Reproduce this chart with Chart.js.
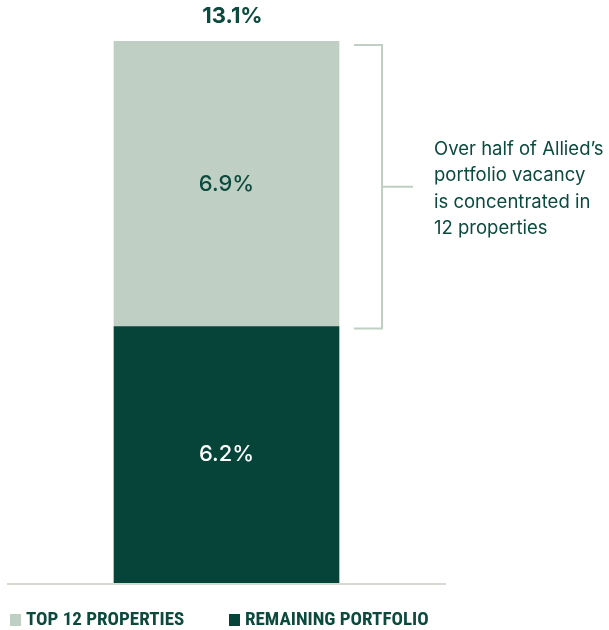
<!DOCTYPE html>
<html>
<head>
<meta charset="utf-8" />
<title>Portfolio vacancy</title>
<script src="https://cdn.jsdelivr.net/npm/chart.js"></script>
<style>
  html, body { margin: 0; padding: 0; background: #fff; }
  #wrap { width: 609px; height: 630px; position: relative; }
</style>
</head>
<body>
<div id="wrap"><canvas id="vacancy"></canvas></div>
<script>
const categories = ['Vacancy'];
const seriesNames = ['REMAINING PORTFOLIO', 'TOP 12 PROPERTIES'];
const remaining = [6.2];
const top12 = [6.9];
const totalLabel = ['13.1%'];
const noteLines = ["Over half of Allied\u2019s", 'portfolio vacancy', 'is concentrated in', '12 properties'];

const DARK = '#06443a';
const LIGHT = '#bfcfc3';
const TEXT = '#0b4a3d';

const overlay = {
  id: 'overlay',
  afterDatasetsDraw(chart) {
    const ctx = chart.ctx;
    const area = chart.chartArea;
    const bottomBar = chart.getDatasetMeta(0).data[0];
    const topBar = chart.getDatasetMeta(1).data[0];
    ctx.save();

    // baseline
    ctx.strokeStyle = '#d9d9d4';
    ctx.lineWidth = 2;
    ctx.beginPath();
    ctx.moveTo(area.left, area.bottom + 1);
    ctx.lineTo(area.right, area.bottom + 1);
    ctx.stroke();

    // segment labels
    ctx.textAlign = 'center';
    ctx.textBaseline = 'middle';
    ctx.font = '500 22px Inter, "Open Sans", sans-serif';
    ctx.fillStyle = '#fff';
    ctx.fillText(remaining[0].toFixed(1) + '%', bottomBar.x, (bottomBar.y + bottomBar.base) / 2);
    ctx.fillStyle = TEXT;
    ctx.fillText(top12[0].toFixed(1) + '%', topBar.x, (topBar.y + topBar.base) / 2 + 1);

    // total above the stack
    ctx.font = '700 22px Inter, "Open Sans", sans-serif';
    ctx.fillText(totalLabel[0], topBar.x + 6, topBar.y - 25);

    // bracket around the top segment
    const bx = 382;
    const y0 = topBar.y + 4;
    const y1 = topBar.base + 2;
    const ym = (y0 + y1) / 2;
    ctx.strokeStyle = LIGHT;
    ctx.lineWidth = 2;
    ctx.beginPath();
    ctx.moveTo(354, y0); ctx.lineTo(bx, y0); ctx.lineTo(bx, y1); ctx.lineTo(354, y1);
    ctx.moveTo(bx, ym); ctx.lineTo(413, ym);
    ctx.stroke();

    // note text
    ctx.textAlign = 'left';
    ctx.font = '400 18.5px Inter, "Open Sans", sans-serif';
    ctx.fillStyle = TEXT;
    noteLines.forEach((t, i) => ctx.fillText(t, 434, 149 + i * 26.5));

    // legend
    ctx.font = '700 19px "Liberation Sans Narrow", "Roboto Condensed", Roboto, sans-serif';
    const items = [[seriesNames[1], LIGHT, 10], [seriesNames[0], DARK, 229]];
    items.forEach(([name, col, x]) => {
      ctx.fillStyle = col;
      ctx.fillRect(x, 614, 11, 12);
      ctx.fillStyle = TEXT;
      ctx.fillText(name, x + 16, 620);
    });
    ctx.restore();
  }
};

new Chart(document.getElementById('vacancy'), {
  type: 'bar',
  data: {
    labels: categories,
    datasets: [
      { label: seriesNames[0], data: remaining, backgroundColor: DARK, barThickness: 225 },
      { label: seriesNames[1], data: top12, backgroundColor: LIGHT, barThickness: 225 }
    ]
  },
  options: {
    responsive: true,
    maintainAspectRatio: false,
    animation: false,
    layout: { padding: { left: 7, right: 163, top: 41, bottom: 47 } },
    plugins: { legend: { display: false }, tooltip: { enabled: false } },
    scales: {
      x: { stacked: true, display: false },
      y: { stacked: true, display: false, min: 0, max: 13.1 }
    }
  },
  plugins: [overlay]
});
</script>
</body>
</html>
